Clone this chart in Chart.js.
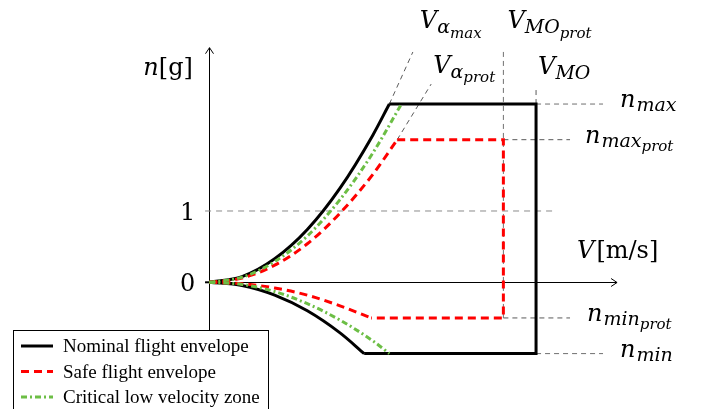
<!DOCTYPE html>
<html>
<head>
<meta charset="utf-8">
<script src="https://cdn.jsdelivr.net/npm/chart.js@4/dist/chart.umd.min.js"></script>
<style>
  html, body { margin: 0; padding: 0; background: #fff; }
  #wrap { width: 703px; height: 409px; position: relative; }
</style>
</head>
<body>
<div id="wrap"><canvas id="c" width="703" height="409"></canvas></div>
<script>
// ---------------- DATA (V in % of V_MO, n in g) ----------------
// Nominal flight envelope
const nominalUpperV = [0, 10, 20, 30, 40, 50, 55.1];
const nominalUpperN = [0, 0.08, 0.33, 0.74, 1.32, 2.06, 2.5];
const nominalLowerV = [0, 10, 20, 30, 40, 47.4];
const nominalLowerN = [0, -0.045, -0.18, -0.40, -0.71, -1];
const nominalBoxV = [47.4, 100, 100, 55.1];
const nominalBoxN = [-1, -1, 2.5, 2.5];

// Safe flight envelope
const safeUpperV = [0, 10, 20, 30, 40, 50, 57.5];
const safeUpperN = [0, 0.06, 0.24, 0.54, 0.97, 1.51, 2];
const safeLowerV = [0, 10, 20, 30, 40, 49.5];
const safeLowerN = [0, -0.02, -0.08, -0.18, -0.33, -0.5];
const safeBoxV = [57.5, 90, 90, 49.5];
const safeBoxN = [2, 2, -0.5, -0.5];

// Critical low velocity zone
const criticalUpperV = [0, 10, 20, 30, 40, 50, 58.8];
const criticalUpperN = [0, 0.07, 0.29, 0.65, 1.16, 1.81, 2.5];
const criticalLowerV = [0, 10, 20, 30, 40, 50, 55.1];
const criticalLowerN = [0, -0.03, -0.13, -0.30, -0.53, -0.82, -1];

// Reference levels
const seriesNames = ['Nominal flight envelope', 'Safe flight envelope', 'Critical low velocity zone'];
const nTickValues = [0, 1];
const nTickLabels = ['0', '1'];
const nMax = 2.5, nMaxProt = 2, nMinProt = -0.5, nMin = -1;
const vMO = 100, vMOprot = 90, vAlphaMax = 55.1, vAlphaProt = 57.5;

// Guide (construction) lines
const guideAlphaMaxV = [55.1, 62.3];
const guideAlphaMaxN = [2.5, 3.23];
const guideAlphaProtV = [57.5, 67.9];
const guideAlphaProtN = [2, 2.78];
const guideMOprotV = [90, 90];
const guideMOprotN = [-0.5, 3.26];
const guideMOV = [100, 100];
const guideMON = [2.5, 2.75];
const guideNmaxV = [100, 120.5];
const guideNmaxProtV = [90, 110.4];
const guideNminProtV = [90, 110.4];
const guideNminV = [100, 120.5];
const guideOneV = [-1.3, 105.2];
const axisVRange = [-1.3, 124.8];
const axisNRange = [-1.9, 3.29];

// ---------------- CHART ----------------
const pts = (xs, ys) => xs.map((x, i) => ({ x, y: ys[i] }));
const flat = (xs, y) => xs.map(x => ({ x, y }));

const BLACK = '#000000', RED = '#ff0000', GREEN = 'rgb(108,190,69)', GUIDE = '#5a5a5a';
const styles = [
  { color: BLACK, width: 3, dash: [] },
  { color: RED, width: 3, dash: [8, 5] },
  { color: GREEN, width: 3, dash: [6, 3, 2, 3] }
];

function curve(data, s, order, label) {
  return { label, data, showLine: true, borderColor: s.color, borderWidth: s.width,
    borderDash: s.dash, pointRadius: 0, cubicInterpolationMode: 'monotone', fill: false, order };
}
function poly(data, s, order, label) {
  return { label, data, showLine: true, borderColor: s.color, borderWidth: s.width,
    borderDash: s.dash, pointRadius: 0, tension: 0, fill: false, order,
    borderJoinStyle: 'miter' };
}
function guide(data, color, dash) {
  return { label: '', data, showLine: true, borderColor: color, borderWidth: 1,
    borderDash: dash, pointRadius: 0, tension: 0, fill: false, order: 10 };
}

const datasets = [
  guide(pts(guideOneV, [1, 1]), '#8a8a8a', [6, 5]),
  guide(pts(guideAlphaMaxV, guideAlphaMaxN), GUIDE, [5, 4]),
  guide(pts(guideAlphaProtV, guideAlphaProtN), GUIDE, [5, 4]),
  guide(pts(guideMOprotV, guideMOprotN), '#707070', [5, 4]),
  guide(pts(guideMOV, guideMON), GUIDE, [5, 4]),
  guide(flat(guideNmaxV, nMax), '#707070', [5, 4]),
  guide(flat(guideNmaxProtV, nMaxProt), GUIDE, [5, 4]),
  guide(flat(guideNminProtV, nMinProt), GUIDE, [5, 4]),
  guide(flat(guideNminV, nMin), '#707070', [5, 4]),

  curve(pts(nominalUpperV, nominalUpperN), styles[0], 3, seriesNames[0]),
  curve(pts(nominalLowerV, nominalLowerN), styles[0], 3, seriesNames[0]),
  poly(pts(nominalBoxV, nominalBoxN), styles[0], 3, seriesNames[0]),

  curve(pts(safeUpperV, safeUpperN), styles[1], 2, seriesNames[1]),
  curve(pts(safeLowerV, safeLowerN), styles[1], 2, seriesNames[1]),
  poly(pts(safeBoxV, safeBoxN), styles[1], 2, seriesNames[1]),

  curve(pts(criticalUpperV, criticalUpperN), styles[2], 1, seriesNames[2]),
  curve(pts(criticalLowerV, criticalLowerN), styles[2], 1, seriesNames[2])
];

const SERIF = '"DejaVu Serif", serif';
function runs(ctx, x, y, list) {
  for (const r of list) {
    ctx.font = (r.i ? 'italic ' : '') + r.s + 'px ' + SERIF;
    ctx.fillText(r.t, x, y + (r.dy || 0));
    x += ctx.measureText(r.t).width + (r.g || 0);
  }
}

const decor = {
  id: 'decor',
  beforeDatasetsDraw(chart) {
    const ctx = chart.ctx, X = chart.scales.x, Y = chart.scales.y;
    const x0 = X.getPixelForValue(0), y0 = Y.getPixelForValue(0);
    ctx.save();
    ctx.strokeStyle = '#000'; ctx.lineWidth = 1;
    const yTop = Y.getPixelForValue(axisNRange[1]);
    ctx.beginPath();
    ctx.moveTo(Math.round(x0) + 0.5, Y.getPixelForValue(axisNRange[0]));
    ctx.lineTo(Math.round(x0) + 0.5, yTop);
    ctx.stroke();
    ctx.beginPath();
    ctx.moveTo(Math.round(x0) + 0.5 - 4, yTop + 6);
    ctx.lineTo(Math.round(x0) + 0.5, yTop);
    ctx.lineTo(Math.round(x0) + 0.5 + 4, yTop + 6);
    ctx.stroke();
    const xL = X.getPixelForValue(axisVRange[0]), xR = X.getPixelForValue(axisVRange[1]);
    ctx.beginPath();
    ctx.moveTo(xL, Math.round(y0) + 0.5);
    ctx.lineTo(xR, Math.round(y0) + 0.5);
    ctx.stroke();
    ctx.beginPath();
    ctx.moveTo(xR - 6, Math.round(y0) + 0.5 - 4);
    ctx.lineTo(xR, Math.round(y0) + 0.5);
    ctx.lineTo(xR - 6, Math.round(y0) + 0.5 + 4);
    ctx.stroke();
    ctx.lineWidth = 2;
    ctx.beginPath();
    ctx.moveTo(xL, y0); ctx.lineTo(x0, y0); ctx.stroke();
    ctx.restore();
  },
  afterDatasetsDraw(chart) {
    const ctx = chart.ctx, X = chart.scales.x, Y = chart.scales.y;
    const x0 = X.getPixelForValue(0);
    ctx.save();
    ctx.fillStyle = '#000';
    ctx.textBaseline = 'alphabetic';
    ctx.font = '24px ' + SERIF;
    ctx.textAlign = 'right';
    nTickValues.forEach((v, i) => ctx.fillText(nTickLabels[i], x0 - 14, Y.getPixelForValue(v) + 9));
    ctx.textAlign = 'left';
    runs(ctx, x0 - 66, Y.getPixelForValue(axisNRange[1]) + 27, [
      { t: 'n', s: 24, i: true }, { t: '[g]', s: 24 }]);
    runs(ctx, X.getPixelForValue(axisVRange[1]) - 40, Y.getPixelForValue(0) - 24, [
      { t: 'V', s: 24, i: true, g: 2 }, { t: '[m/s]', s: 24 }]);
    const nlab = (v, xv, dx, sub, sub2) => {
      const l = [{ t: 'n', s: 24, i: true, g: 1 }, { t: sub, s: 19, i: true, dy: 4 }];
      if (sub2) l.push({ t: sub2, s: 15, i: true, dy: 8 });
      runs(ctx, X.getPixelForValue(xv) + dx, Y.getPixelForValue(v) + 3, l);
    };
    nlab(nMax, guideNmaxV[1], 17, 'max');
    nlab(nMaxProt, guideNmaxProtV[1], 15, 'max', 'prot');
    nlab(nMinProt, guideNminProtV[1], 17, 'min', 'prot');
    nlab(nMin, guideNminV[1], 17, 'min');
    runs(ctx, X.getPixelForValue(guideAlphaMaxV[1]) + 7, Y.getPixelForValue(guideAlphaMaxN[1]) - 24, [
      { t: 'V', s: 24, i: true }, { t: 'α', s: 19, i: true, dy: 5 }, { t: 'max', s: 15, i: true, dy: 10 }]);
    runs(ctx, X.getPixelForValue(guideAlphaProtV[1]) + 2, Y.getPixelForValue(guideAlphaProtN[1]) - 11, [
      { t: 'V', s: 24, i: true }, { t: 'α', s: 19, i: true, dy: 5 }, { t: 'prot', s: 15, i: true, dy: 9 }]);
    runs(ctx, X.getPixelForValue(vMOprot) + 4, Y.getPixelForValue(guideMOprotN[1]) - 22, [
      { t: 'V', s: 24, i: true }, { t: 'MO', s: 19, i: true, dy: 5 }, { t: 'prot', s: 15, i: true, dy: 10 }]);
    runs(ctx, X.getPixelForValue(vMO) + 2, Y.getPixelForValue(guideMON[1]) - 12, [
      { t: 'V', s: 24, i: true }, { t: 'MO', s: 19, i: true, dy: 5 }]);
    ctx.restore();
  },
  afterDraw(chart) {
    const ctx = chart.ctx;
    ctx.save();
    ctx.fillStyle = '#fff';
    ctx.fillRect(13.5, 330.5, 255, 90);
    ctx.strokeStyle = '#000'; ctx.lineWidth = 1;
    ctx.strokeRect(13.5, 330.5, 255, 90);
    ctx.font = '19px "Liberation Serif", serif';
    ctx.textBaseline = 'alphabetic';
    ctx.fillStyle = '#000';
    seriesNames.forEach((name, i) => {
      const y = 346 + i * 25.5;
      const s = styles[i];
      ctx.strokeStyle = s.color; ctx.lineWidth = s.width; ctx.setLineDash(s.dash);
      ctx.beginPath(); ctx.moveTo(21, y); ctx.lineTo(53, y); ctx.stroke();
      ctx.setLineDash([]);
      ctx.fillText(name, 63, y + 6);
    });
    ctx.restore();
  }
};

new Chart(document.getElementById('c'), {
  type: 'scatter',
  data: { datasets },
  options: {
    responsive: false,
    animation: false,
    devicePixelRatio: 1,
    events: [],
    layout: { padding: 0 },
    plugins: { legend: { display: false }, tooltip: { enabled: false }, title: { display: false } },
    scales: {
      x: { type: 'linear', display: false, min: -64.07, max: 151.1 },
      y: { type: 'linear', display: false, min: -1.777, max: 3.959 }
    }
  },
  plugins: [decor]
});
</script>
</body>
</html>
